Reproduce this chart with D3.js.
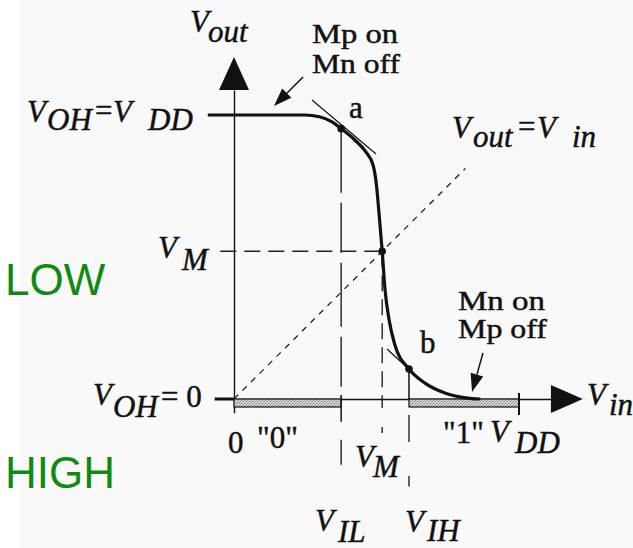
<!DOCTYPE html>
<html>
<head>
<meta charset="utf-8">
<script src="https://cdn.jsdelivr.net/npm/d3@7"></script>
<style>
  html, body { margin: 0; padding: 0; background: #fff; }
  svg { display: block; }
  .serif { font-family: "Liberation Serif", "Times New Roman", serif; font-size: 31px; fill: #111; stroke: #111; stroke-width: 0.45px; }
  .note { font-size: 27px; }
  .it { font-style: italic; }
  .green { font-family: "Liberation Sans", Arial, sans-serif; font-size: 44px; fill: #128a12; }
</style>
</head>
<body>
<div id="vtc"></div>
<script>
// Levels of the transfer characteristic (volts)
const VDD = 2.5;
const VIL = 0.94;
const VM = 1.3;
const VIH = 1.535;

// Vout(Vin) curve
const curveVin  = [-0.23, 0.62, 0.75, 0.86, 0.94, 1.06, 1.16, 1.22, 1.25, 1.27, 1.30, 1.325, 1.36, 1.41, 1.535, 1.675, 1.85, 2.03, 2.16];
const curveVout = [2.5, 2.5, 2.485, 2.44, 2.38, 2.28, 2.17, 2.06, 1.88, 1.66, 1.30, 0.96, 0.70, 0.48, 0.264, 0.14, 0.053, 0.01, 0];

// marked points a, VM, b
const pointNames = ["a", "VM", "b"];
const pointVin  = [0.94, 1.30, 1.535];
const pointVout = [2.38, 1.30, 0.264];

// tangents drawn at a and b
const tangentVin  = [[0.684, 1.246], [1.342, 1.56]];
const tangentVout = [[2.632, 2.157], [0.44, 0.24]];

// logic "0" and "1" input bands
const bandStart = [0, VIH];
const bandEnd   = [VIL, VDD];

// annotation arrows ("Mp on / Mn off", "Mn on / Mp off"): [from, to]
const arrowVin  = [[0.606, 0.351], [2.184, 2.088]];
const arrowVout = [[2.835, 2.58], [0.405, 0.062]];

const drawVTC = () => {

  /*******************************/
  /*    Declare the constants    */
  /*******************************/
  const width = 633;
  const height = 548;

  const svg = d3.select("#vtc")
    .append("svg")
      .attr("width", width)
      .attr("height", height)
      .attr("viewBox", `0, 0, ${width}, ${height}`);

  svg.append("rect")
    .attr("width", width).attr("height", height)
    .attr("fill", "#ffffff");
  svg.append("rect")
    .attr("x", 20).attr("width", width - 20).attr("height", height)
    .attr("fill", "#f9f9f9");

  /****************************/
  /*    Declare the scales    */
  /****************************/
  const x = d3.scaleLinear().domain([0, VDD]).range([234, 519]);
  const y = d3.scaleLinear().domain([0, VDD]).range([399, 115]);

  // hatch pattern for the logic bands
  const defs = svg.append("defs");
  const hatch = defs.append("pattern")
    .attr("id", "hatch")
    .attr("patternUnits", "userSpaceOnUse")
    .attr("width", 3).attr("height", 3);
  hatch.append("rect").attr("width", 3).attr("height", 3).attr("fill", "#d8d8d8");
  hatch.append("path").attr("d", "M0,3 L3,0").attr("stroke", "#777").attr("stroke-width", 0.8);

  /**************************/
  /*      Add the axes      */
  /**************************/
  const xAxisScale = d3.scaleLinear().domain([0, 2.78]).range([x(0), x(2.78)]);
  svg.append("g")
      .attr("transform", `translate(0, ${y(0)})`)
      .call(d3.axisBottom(xAxisScale).tickValues([]).tickSizeOuter(0))
      .select(".domain").attr("stroke", "#111").attr("stroke-width", 1.4);

  const yAxisScale = d3.scaleLinear().domain([-0.12, 2.72]).range([y(-0.12), y(2.72)]);
  svg.append("g")
      .attr("transform", `translate(${x(0)}, 0)`)
      .call(d3.axisLeft(yAxisScale).tickValues([]).tickSizeOuter(0))
      .select(".domain").attr("stroke", "#111").attr("stroke-width", 1.4);

  // arrowheads
  svg.append("path")
    .attr("d", `M${x(2.78)},${y(0) - 14} L${x(3.06)},${y(0)} L${x(2.78)},${y(0) + 14} Z`)
    .attr("fill", "#111");
  svg.append("path")
    .attr("d", `M${x(0) - 15},${y(2.72)} L${x(0)},${y(3.01)} L${x(0) + 15},${y(2.72)} Z`)
    .attr("fill", "#111");

  /******************************/
  /*      Logic level bands     */
  /******************************/
  bandStart.forEach((s, i) => {
    svg.append("rect")
      .attr("x", x(s))
      .attr("y", y(0))
      .attr("width", x(bandEnd[i]) - x(s))
      .attr("height", 8)
      .attr("fill", "url(#hatch)")
      .attr("stroke", "#111")
      .attr("stroke-width", 1.2);
  });
  // end ticks of the bands
  svg.append("line")
    .attr("x1", x(VDD)).attr("x2", x(VDD))
    .attr("y1", y(0) - 6).attr("y2", y(0) + 16)
    .attr("stroke", "#111").attr("stroke-width", 2);
  svg.append("line")
    .attr("x1", x(VIL)).attr("x2", x(VIL))
    .attr("y1", y(0) - 4).attr("y2", y(-0.2))
    .attr("stroke", "#111").attr("stroke-width", 1.5);

  /******************************/
  /*      Guide lines           */
  /******************************/
  // Vout = Vin
  svg.append("line")
    .attr("x1", x(0)).attr("y1", y(0))
    .attr("x2", x(2.03)).attr("y2", y(2.03))
    .attr("stroke", "#222").attr("stroke-width", 1.3)
    .attr("stroke-dasharray", "6,6");

  // VM horizontal and vertical
  svg.append("line")
    .attr("x1", x(-0.12)).attr("y1", y(VM))
    .attr("x2", x(VM)).attr("y2", y(VM))
    .attr("stroke", "#222").attr("stroke-width", 1.4)
    .attr("stroke-dasharray", "16,8");
  svg.append("line")
    .attr("x1", x(VM)).attr("y1", y(VM))
    .attr("x2", x(VM)).attr("y2", y(0))
    .attr("stroke", "#222").attr("stroke-width", 1.4)
    .attr("stroke-dasharray", "16,8");
  svg.append("line")
    .attr("x1", x(VM)).attr("y1", y(0))
    .attr("x2", x(VM)).attr("y2", y(-0.3))
    .attr("stroke", "#222").attr("stroke-width", 1.4)
    .attr("stroke-dasharray", "9,19");

  // VIL vertical
  svg.append("line")
    .attr("x1", x(VIL)).attr("y1", y(pointVout[0]))
    .attr("x2", x(VIL)).attr("y2", y(0))
    .attr("stroke", "#222").attr("stroke-width", 1.4)
    .attr("stroke-dasharray", "64,10,50,10");
  svg.append("line")
    .attr("x1", x(VIL)).attr("y1", y(-0.2))
    .attr("x2", x(VIL)).attr("y2", y(-0.86))
    .attr("stroke", "#222").attr("stroke-width", 1.4)
    .attr("stroke-dasharray", "0,18,25,18");

  // VIH vertical: solid from b to the axis, dashed below
  svg.append("line")
    .attr("x1", x(VIH)).attr("y1", y(pointVout[2]))
    .attr("x2", x(VIH)).attr("y2", y(0))
    .attr("stroke", "#111").attr("stroke-width", 1.5);
  svg.append("line")
    .attr("x1", x(VIH)).attr("y1", y(0))
    .attr("x2", x(VIH)).attr("y2", y(-0.77))
    .attr("stroke", "#222").attr("stroke-width", 1.4)
    .attr("stroke-dasharray", "0,16,27,18");

  // tangents at a and b
  tangentVin.forEach((tv, i) => {
    svg.append("line")
      .attr("x1", x(tv[0])).attr("y1", y(tangentVout[i][0]))
      .attr("x2", x(tv[1])).attr("y2", y(tangentVout[i][1]))
      .attr("stroke", "#111").attr("stroke-width", 1.2);
  });

  /******************************/
  /*      Transfer curve        */
  /******************************/
  const curveData = curveVin.map((v, i) => ({vin: v, vout: curveVout[i]}));
  const lineGen = d3.line()
    .x(d => x(d.vin))
    .y(d => y(d.vout))
    .curve(d3.curveMonotoneX);
  svg.append("path")
    .datum(curveData)
    .attr("d", lineGen)
    .attr("fill", "none")
    .attr("stroke", "#111")
    .attr("stroke-width", 3.2);

  // short thick output stub at Vout = 0
  svg.append("line")
    .attr("x1", x(-0.17)).attr("x2", x(0))
    .attr("y1", y(0)).attr("y2", y(0))
    .attr("stroke", "#111").attr("stroke-width", 3);

  // points
  svg.selectAll(".pt")
    .data(pointNames)
    .join("circle")
      .attr("class", "pt")
      .attr("cx", (d, i) => x(pointVin[i]))
      .attr("cy", (d, i) => y(pointVout[i]))
      .attr("r", 3.8)
      .attr("fill", "#111");

  // annotation arrows
  arrowVin.forEach((av, i) => {
    const x1 = x(av[0]), y1 = y(arrowVout[i][0]);
    const x2 = x(av[1]), y2 = y(arrowVout[i][1]);
    const len = Math.hypot(x2 - x1, y2 - y1);
    const ux = (x2 - x1) / len, uy = (y2 - y1) / len;
    const headLen = 18, headW = 6.5;
    const bx = x2 - ux * headLen, by = y2 - uy * headLen;
    svg.append("line")
      .attr("x1", x1).attr("y1", y1).attr("x2", bx).attr("y2", by)
      .attr("stroke", "#111").attr("stroke-width", 1.5);
    svg.append("path")
      .attr("d", `M${x2},${y2} L${bx - uy * headW},${by + ux * headW} L${bx + uy * headW},${by - ux * headW} Z`)
      .attr("fill", "#111");
  });

  /******************************/
  /*      Labels                */
  /******************************/
  const txt = (xPos, yPos, s, cls) => svg.append("text")
    .attr("class", cls)
    .attr("x", xPos).attr("y", yPos)
    .text(s);
  const sub = (xV, yV, main, subText, xS, dy) => {
    txt(xV, yV, main, "serif it");
    txt(xS, yV + dy, subText, "serif it");
  };
  const note = (xPos, yPos, s, w) => txt(xPos, yPos, s, "serif note")
    .attr("textLength", w)
    .attr("lengthAdjust", "spacingAndGlyphs");

  sub(190, 32, "V", "out", 208, 10);
  note(312, 43, "Mp on", 86);
  note(312, 73, "Mn off", 88);
  txt(349, 118, "a", "serif");

  sub(27, 122, "V", "OH", 47, 8);
  txt(95, 121, "=", "serif");
  sub(113, 122, "V", "DD", 148, 8);

  sub(452, 138, "V", "out", 473, 9);
  txt(518, 137, "=", "serif");
  sub(537, 138, "V", "in", 572, 9);

  sub(158, 258, "V", "M", 182, 12);

  note(458, 310, "Mn on", 87);
  note(458, 338, "Mp off", 89);
  txt(420, 353, "b", "serif");

  sub(93, 405, "V", "OH", 113, 12);
  txt(161, 407, "= 0", "serif");

  txt(228, 453, "0", "serif");
  txt(257, 448, "\"0\"", "serif");
  txt(443, 443, "\"1\"", "serif");
  sub(490, 442, "V", "DD", 515, 11);

  sub(355, 467, "V", "M", 373, 10);
  sub(315, 531, "V", "IL", 338, 11);
  sub(405, 532, "V", "IH", 427, 9);
  sub(587, 405, "V", "in", 609, 10);

  txt(5, 295, "LOW", "green");
  txt(5, 488, "HIGH", "green");
};

drawVTC();
</script>
</body>
</html>
